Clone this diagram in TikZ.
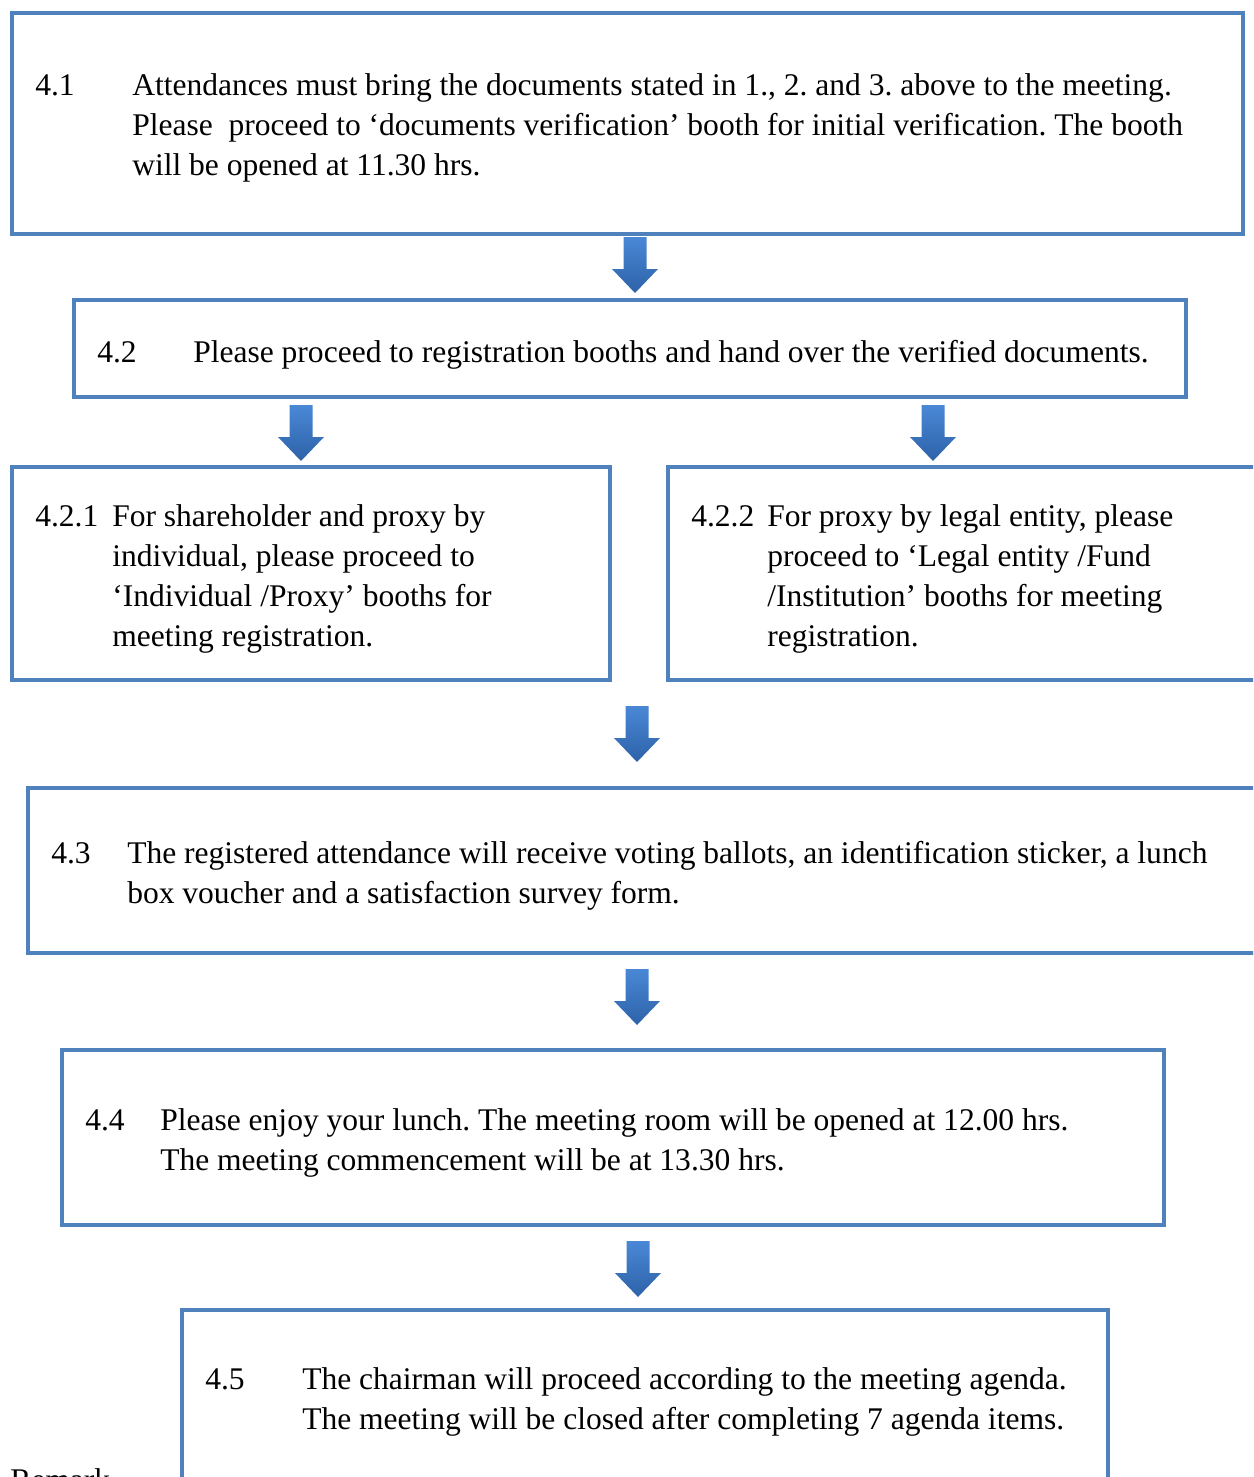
\documentclass[tikz,border=0pt]{standalone}
\usepackage{fontspec}
\setmainfont{Liberation Serif}
\frenchspacing
\definecolor{boxblue}{HTML}{4F81BD}
\definecolor{arrtop}{HTML}{4A88D6}
\definecolor{arrbot}{HTML}{2D62A8}
\begin{document}
\begin{tikzpicture}[x=0.75pt,y=-0.75pt,
  box/.style={draw=boxblue, line width=3pt, anchor=north west, inner sep=0pt, outer sep=0pt},
  txt/.style={anchor=base west, inner sep=0pt, align=left, font=\fontsize{23.65pt}{30pt}\selectfont\frenchspacing},
  blockarrow/.pic={\shade[top color=arrtop, bottom color=arrbot] (-11.5,0) -- (11.5,0) -- (11.5,32) -- (23,32) -- (0,56) -- (-23,32) -- (-11.5,32) -- cycle;}]
\useasboundingbox (0,0) rectangle (1253,1477);
\clip (0,0) rectangle (1253,1477);

% boxes
\node[box, minimum width=923.25pt, minimum height=165.75pt] (b41) at (12,13) {};
\node[box, minimum width=834pt, minimum height=72.75pt] (b42) at (74,300) {};
\node[box, minimum width=448.5pt, minimum height=159.75pt] (b421) at (12,467) {};
\node[box, minimum width=451.5pt, minimum height=159.75pt] (b422) at (668,467) {};
\node[box, minimum width=931.5pt, minimum height=123.75pt] (b43) at (28,788) {};
\node[box, minimum width=826.5pt, minimum height=131.25pt] (b44) at (62,1050) {};
\node[box, minimum width=694.5pt, minimum height=142.5pt] (b45) at (182,1310) {};

% arrows
\pic at (635,237) {blockarrow};
\pic at (301,405) {blockarrow};
\pic at (933,405) {blockarrow};
\pic at (637,706) {blockarrow};
\pic at (637,969) {blockarrow};
\pic at (638,1241) {blockarrow};

% texts (base anchor = baseline of the last line)
\node[txt] (n41) at (35,95) {4.1};
\node[txt] (t41) at (132,175) {Attendances must bring the documents stated in 1., 2. and 3. above to the meeting.\\Please\ \ proceed to ‘documents verification’ booth for initial verification. The booth\\will be opened at 11.30 hrs.};
\node[txt] (n42) at (97,362) {4.2};
\node[txt] (t42) at (193,362) {Please proceed to registration booths and hand over the verified documents.};
\node[txt] (n421) at (35,526) {4.2.1};
\node[txt] (t421) at (112,646) {For shareholder and proxy by\\individual, please proceed to\\‘Individual /Proxy’ booths for\\meeting registration.};
\node[txt] (n422) at (691,526) {4.2.2};
\node[txt] (t422) at (767,646) {For proxy by legal entity, please\\proceed to ‘Legal entity /Fund\\/Institution’ booths for meeting\\registration.};
\node[txt] (n43) at (51,863) {4.3};
\node[txt] (t43) at (127,903) {The registered attendance will receive voting ballots, an identification sticker, a lunch\\box voucher and a satisfaction survey form.};
\node[txt] (n44) at (85,1130) {4.4};
\node[txt] (t44) at (160,1170) {Please enjoy your lunch. The meeting room will be opened at 12.00 hrs.\\The meeting commencement will be at 13.30 hrs.};
\node[txt] (n45) at (205,1389) {4.5};
\node[txt] (t45) at (302,1429) {The chairman will proceed according to the meeting agenda.\\The meeting will be closed after completing 7 agenda items.};
\node[txt] (rem) at (10,1490) {Remark};
\end{tikzpicture}
\end{document}
